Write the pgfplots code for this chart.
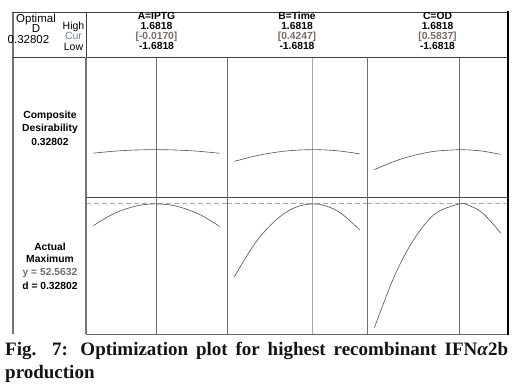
\documentclass[border=0pt]{standalone}
\usepackage{pgfplots}
\pgfplotsset{compat=1.18}
\usepackage{fontspec}
\setmainfont{Liberation Sans}
\newfontfamily\capfont{Liberation Serif}
\definecolor{curvecol}{HTML}{505050}
\definecolor{framecol}{HTML}{6E6E6E}
\definecolor{curcol}{HTML}{7A6A66}
\definecolor{curlbl}{HTML}{6C7FA6}
\definecolor{ycol}{HTML}{6E6E6E}
\definecolor{dashcol}{HTML}{A8A8A8}
\definecolor{captcol}{HTML}{141414}

\pgfplotstableread{
x d y
-1.6818 0.3038 51.48
-1.2 0.3158 52.02
-0.8 0.3227 52.32
-0.4 0.3267 52.51
-0.017 0.3280 52.5632
0.4 0.3265 52.50
0.8 0.3222 52.30
1.2 0.3151 51.99
1.6818 0.3028 51.44
}\colA
\pgfplotstableread{
x d y
-1.6818 0.2467 48.92
-1.2 0.2796 50.40
-0.8 0.3005 51.33
-0.4 0.3155 52.01
0 0.3247 52.42
0.4247 0.3280 52.5632
0.8 0.3254 52.45
1.2 0.3170 52.07
1.6818 0.2990 51.27
}\colB
\pgfplotstableread{
x d y
-1.6818 0.1897 46.38
-1.2 0.2423 48.73
-0.8 0.2764 50.26
-0.4 0.3019 51.40
0 0.3188 52.15
0.5837 0.3280 52.5632
0.8 0.3267 52.51
1.2 0.3178 52.11
1.6818 0.2955 51.11
}\colC

\begin{document}
\begin{tikzpicture}
\path[use as bounding box] (0pt,0pt) rectangle (525pt,390pt);
\pgfplotsset{
  opt/.style={scale only axis, hide axis, clip=false, xmin=-1.88, xmax=1.88},
  toprow/.style={opt, height=140pt, ymin=0, ymax=0.970},
  botrow/.style={opt, height=137pt, ymin=46.06, ymax=52.91},
  crv/.style={curvecol, line width=0.6pt, smooth, tension=0.6, no marks},
}
% ---- top row: composite desirability
\begin{axis}[toprow, anchor=south west, at={(86pt,193pt)}, width=141pt]
\addplot[framecol, line width=0.7pt] coordinates {(-0.017,0) (-0.017,0.970)};
\addplot[crv] table[x=x,y=d] {\colA};
\end{axis}
\begin{axis}[toprow, anchor=south west, at={(227pt,193pt)}, width=140pt]
\addplot[black!35, line width=0.7pt] coordinates {(0.4247,0) (0.4247,0.970)};
\addplot[crv] table[x=x,y=d] {\colB};
\end{axis}
\begin{axis}[toprow, anchor=south west, at={(367pt,193pt)}, width=141pt]
\addplot[framecol, line width=0.7pt] coordinates {(0.5837,0) (0.5837,0.970)};
\addplot[crv] table[x=x,y=d] {\colC};
\end{axis}
% ---- bottom row: response
\begin{axis}[botrow, anchor=south west, at={(86pt,56pt)}, width=141pt]
\addplot[framecol, line width=0.7pt] coordinates {(-0.017,46.06) (-0.017,52.91)};
\addplot[dashcol, dash pattern=on 5pt off 3pt, line width=1pt] coordinates {(-1.88,52.5632) (1.88,52.5632)};
\addplot[crv] table[x=x,y=y] {\colA};
\end{axis}
\begin{axis}[botrow, anchor=south west, at={(227pt,56pt)}, width=140pt]
\addplot[black!35, line width=0.7pt] coordinates {(0.4247,46.06) (0.4247,52.91)};
\addplot[dashcol, dash pattern=on 5pt off 3pt, line width=1pt] coordinates {(-1.88,52.5632) (1.88,52.5632)};
\addplot[crv] table[x=x,y=y] {\colB};
\end{axis}
\begin{axis}[botrow, anchor=south west, at={(367pt,56pt)}, width=141pt]
\addplot[framecol, line width=0.7pt] coordinates {(0.5837,46.06) (0.5837,52.91)};
\addplot[dashcol, dash pattern=on 5pt off 3pt, line width=1pt] coordinates {(-1.88,52.5632) (1.88,52.5632)};
\addplot[crv] table[x=x,y=y] {\colC};
\end{axis}

\begin{scope}[x=1pt,y=1pt]
% ---- frame
\draw[black!55, line width=2pt] (13,378) -- (13,56);
\draw[black!75, line width=0.9pt] (12,378) -- (508,378);
\draw[black!75, line width=0.9pt] (12,333) -- (508,333);
\draw[black!75, line width=0.9pt] (86,378) -- (86,333);
\draw[black!55, line width=1.6pt] (86,333) -- (86,56);
\draw[black!70, line width=0.9pt] (86,193) -- (508,193);
\draw[black!60, line width=0.9pt] (86,56) -- (508,56);
\draw[framecol, line width=0.8pt] (227,333) -- (227,56);
\draw[framecol, line width=0.8pt] (367,333) -- (367,56);
\draw[black, line width=1.6pt] (508,379) -- (508,55);

% ---- header texts
\begin{scope}[every node/.style={anchor=base, inner sep=0pt, font=\bfseries\fontsize{10.3}{10}\selectfont}]
\node at (156.5,370.6) {A=IPTG};
\node at (156.5,360.6) {1.6818};
\node[text=curcol] at (156.5,350.6) {[-0.0170]};
\node at (156.5,340.6) {-1.6818};
\node at (297,370.6) {B=Time};
\node at (297,360.6) {1.6818};
\node[text=curcol] at (297,350.6) {[0.4247]};
\node at (297,340.6) {-1.6818};
\node at (437.5,370.6) {C=OD};
\node at (437.5,360.6) {1.6818};
\node[text=curcol] at (437.5,350.6) {[0.5837]};
\node at (437.5,340.6) {-1.6818};
\end{scope}
\begin{scope}[every node/.style={anchor=base, inner sep=0pt, font=\fontsize{11.5}{11}\selectfont}]
\node at (36,367) {Optimal};
\node at (36,357) {D};
\node at (28.5,346.5) {0.32802};
\end{scope}
\begin{scope}[every node/.style={anchor=base, inner sep=0pt, font=\fontsize{10.5}{10}\selectfont}]
\node at (73.5,360.5) {High};
\node[text=curlbl] at (73.5,350) {Cur};
\node at (73.5,339.2) {Low};
\end{scope}
% ---- row labels
\begin{scope}[every node/.style={anchor=base, inner sep=0pt, font=\bfseries\fontsize{10.3}{10}\selectfont}]
\node at (50,271.5) {Composite};
\node at (50,258) {Desirability};
\node at (50,244.5) {0.32802};
\node at (50,139.5) {Actual};
\node at (50,127) {Maximum};
\node[text=ycol] at (50,114) {y = 52.5632};
\node at (50,100.5) {d = 0.32802};
\end{scope}
% ---- caption
\node[anchor=north west, inner sep=0pt, text=captcol] at (5,48) {\parbox[t]{503pt}{\capfont\bfseries\fontsize{19}{23}\selectfont\tolerance=10000\hbadness=10000\hyphenpenalty=10000\noindent
Fig. 7: Optimization plot for highest recombinant IFN\textit{α}2b production}};
\end{scope}
\end{tikzpicture}
\end{document}
